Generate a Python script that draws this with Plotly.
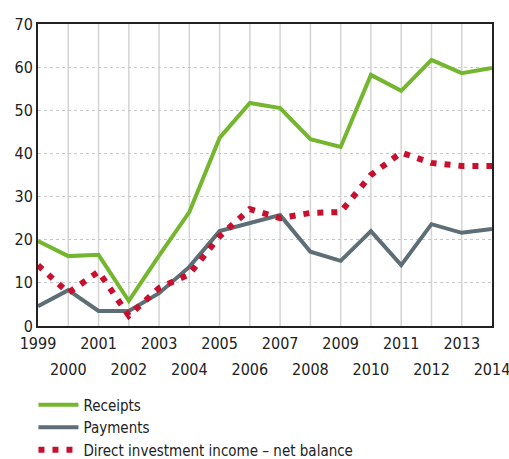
import plotly.graph_objects as go

years = list(range(1999, 2015))
receipts = [19.7, 16.2, 16.5, 5.8, 16.3, 26.4, 43.6, 51.7, 50.5, 43.3, 41.5, 58.2, 54.5, 61.7, 58.6, 59.8]
payments = [4.6, 8.3, 3.5, 3.5, 7.6, 13.7, 22.0, 23.9, 25.7, 17.2, 15.1, 22.0, 14.1, 23.6, 21.6, 22.5]
net_balance = [14.1, 7.7, 12.6, 2.4, 8.8, 12.0, 20.8, 27.1, 25.0, 26.2, 26.4, 35.0, 40.2, 37.8, 37.1, 37.1]
odd_years = [y for y in years if y % 2 == 1]
even_years = [y for y in years if y % 2 == 0]

FONT = "Liberation Sans Narrow, DejaVu Sans Condensed, Roboto, sans-serif"
TXT = "#222222"

fig = go.Figure()
fig.add_trace(go.Scatter(x=years, y=receipts, name="Receipts", mode="lines",
                         line=dict(color="#74b72e", width=4)))
fig.add_trace(go.Scatter(x=years, y=payments, name="Payments", mode="lines",
                         line=dict(color="#5e6e76", width=4)))
fig.add_trace(go.Scatter(x=years, y=net_balance, name="Direct investment income – net balance",
                         mode="lines", line=dict(color="#c8102e", width=6, dash="6px,8px")))
# empty trace that carries the second row of year labels
fig.add_trace(go.Scatter(x=[years[0], years[-1]], y=[None, None], xaxis="x2",
                         mode="lines", showlegend=False, hoverinfo="skip"))

axis_common = dict(range=[1999, 2014], tickangle=0, automargin=False, ticks="",
                   tickfont=dict(family=FONT, size=16, color=TXT), zeroline=False,
                   ticklabeloverflow="allow")

fig.update_layout(
    width=509, height=459,
    margin=dict(l=38, r=17, t=24, b=133, autoexpand=False),
    paper_bgcolor="white", plot_bgcolor="white",
    font=dict(family=FONT, size=16, color=TXT),
    showlegend=True,
    legend=dict(x=-0.01, y=-0.207, xanchor="left", yanchor="top",
                font=dict(family=FONT, size=15, color=TXT),
                tracegroupgap=0, itemwidth=40, bgcolor="rgba(0,0,0,0)"),
    # odd years on the first row of labels
    xaxis=dict(tickvals=odd_years, ticktext=[str(y) for y in odd_years],
               showgrid=False, showline=True, linecolor=TXT, linewidth=2, mirror=True,
               ticklabelstandoff=2, **axis_common),
    # even years on a second row, further below the axis
    xaxis2=dict(tickvals=even_years, ticktext=[str(y) for y in even_years],
                overlaying="x", anchor="y", side="bottom",
                showgrid=False, showline=False, ticklabelstandoff=32,
                **axis_common),
    yaxis=dict(range=[0, 70], tickvals=list(range(0, 71, 10)), automargin=False,
               showgrid=True, gridcolor="#c8c8c8", gridwidth=1, griddash="dot",
               showline=True, linecolor=TXT, linewidth=2, mirror=True,
               ticks="", tickfont=dict(size=16), zeroline=False),
    annotations=[dict(text="(EUR billions)", xref="paper", yref="paper", x=-0.08, y=1,
                      xanchor="left", yanchor="bottom", yshift=21, showarrow=False,
                      font=dict(family=FONT, size=13, color="#777777"))],
)

# vertical grid at every year, drawn beneath the data
for y in years[1:-1]:
    fig.add_vline(x=y, line=dict(color="#d4d4d4", width=1.5), layer="below")

fig.write_html("out.html")
